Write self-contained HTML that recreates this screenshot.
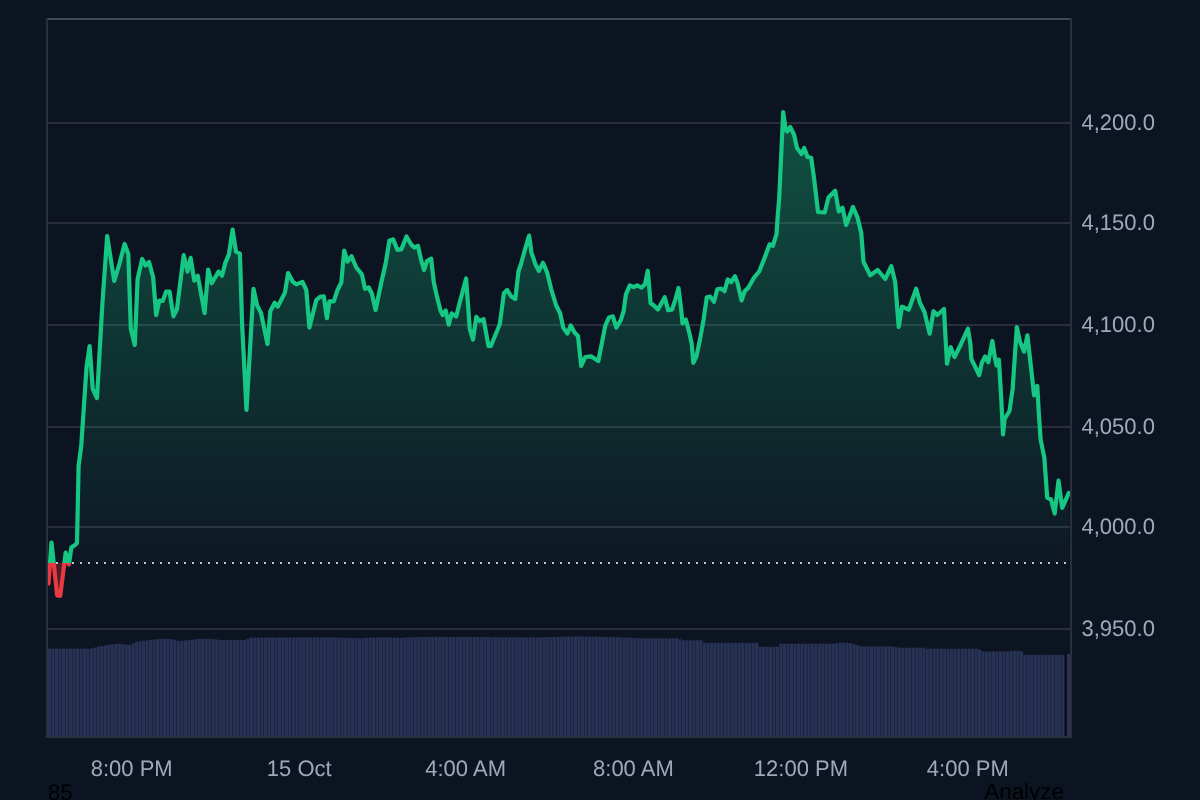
<!DOCTYPE html>
<html><head><meta charset="utf-8">
<style>
html,body{margin:0;padding:0;background:#0d1421;width:1200px;height:800px;overflow:hidden}
svg{position:absolute;left:0;top:0;display:block}
text{font-family:"Liberation Sans",Arial,sans-serif;font-size:22px}
</style></head>
<body>
<svg width="1200" height="800" viewBox="0 0 1200 800">
<defs>
<linearGradient id="gfill" gradientUnits="userSpaceOnUse" x1="0" y1="18" x2="0" y2="563.0">
<stop offset="0" stop-color="#16c784" stop-opacity="0.41"/>
<stop offset="1" stop-color="#16c784" stop-opacity="0.024"/>
</linearGradient>
<linearGradient id="rfill" gradientUnits="userSpaceOnUse" x1="0" y1="563.0" x2="0" y2="737">
<stop offset="0" stop-color="#ea3943" stop-opacity="0.28"/>
<stop offset="1" stop-color="#ea3943" stop-opacity="0.1"/>
</linearGradient>
<clipPath id="above"><rect x="0" y="0" width="1200" height="563.0"/></clipPath>
<clipPath id="below"><rect x="0" y="563.0" width="1200" height="300"/></clipPath>
<clipPath id="pane"><rect x="48" y="20" width="1022" height="716"/></clipPath>
</defs>
<g fill="#2a2e3c"><rect x="48" y="122" width="1022" height="2"/>
<rect x="48" y="222" width="1022" height="2"/>
<rect x="48" y="324" width="1022" height="2"/>
<rect x="48" y="426" width="1022" height="2"/>
<rect x="48" y="526" width="1022" height="2"/>
<rect x="48" y="628" width="1022" height="2"/></g>
<rect x="46" y="18" width="1026" height="2" fill="#434857"/>
<rect x="46" y="18" width="2" height="720" fill="#2a2f3c"/>
<rect x="1070" y="18" width="2" height="720" fill="#2a2f3c"/>
<rect x="46" y="736" width="1026" height="2" fill="#2a2f3c"/>
<g fill="#273254" clip-path="url(#pane)">
<rect x="48" y="648.6" width="3.15" height="87.4"/>
<rect x="51.48" y="648.6" width="3.15" height="87.4"/>
<rect x="54.97" y="648.6" width="3.15" height="87.4"/>
<rect x="58.45" y="648.6" width="3.15" height="87.4"/>
<rect x="61.93" y="648.6" width="3.15" height="87.4"/>
<rect x="65.41" y="648.6" width="3.15" height="87.4"/>
<rect x="68.9" y="648.6" width="3.15" height="87.4"/>
<rect x="72.38" y="648.6" width="3.15" height="87.4"/>
<rect x="75.86" y="648.6" width="3.15" height="87.4"/>
<rect x="79.35" y="648.6" width="3.15" height="87.4"/>
<rect x="82.83" y="648.6" width="3.15" height="87.4"/>
<rect x="86.31" y="648.6" width="3.15" height="87.4"/>
<rect x="89.8" y="648.52" width="3.15" height="87.48"/>
<rect x="93.28" y="647.63" width="3.15" height="88.37"/>
<rect x="96.76" y="646.74" width="3.15" height="89.26"/>
<rect x="100.25" y="645.99" width="3.15" height="90.01"/>
<rect x="103.73" y="645.36" width="3.15" height="90.64"/>
<rect x="107.21" y="644.73" width="3.15" height="91.27"/>
<rect x="110.69" y="644.35" width="3.15" height="91.65"/>
<rect x="114.18" y="644.1" width="3.15" height="91.9"/>
<rect x="117.66" y="643.86" width="3.15" height="92.14"/>
<rect x="121.14" y="644.12" width="3.15" height="91.88"/>
<rect x="124.63" y="644.54" width="3.15" height="91.46"/>
<rect x="128.11" y="644.95" width="3.15" height="91.05"/>
<rect x="131.59" y="643.45" width="3.15" height="92.55"/>
<rect x="135.07" y="641.71" width="3.15" height="94.29"/>
<rect x="138.56" y="641.15" width="3.15" height="94.85"/>
<rect x="142.04" y="640.75" width="3.15" height="95.25"/>
<rect x="145.52" y="640.34" width="3.15" height="95.66"/>
<rect x="149.01" y="639.94" width="3.15" height="96.06"/>
<rect x="152.49" y="639.52" width="3.15" height="96.48"/>
<rect x="155.97" y="639.1" width="3.15" height="96.9"/>
<rect x="159.46" y="638.8" width="3.15" height="97.2"/>
<rect x="162.94" y="638.8" width="3.15" height="97.2"/>
<rect x="166.42" y="638.8" width="3.15" height="97.2"/>
<rect x="169.91" y="639.19" width="3.15" height="96.81"/>
<rect x="173.39" y="640.14" width="3.15" height="95.86"/>
<rect x="176.87" y="640.97" width="3.15" height="95.03"/>
<rect x="180.35" y="640.68" width="3.15" height="95.32"/>
<rect x="183.84" y="640.39" width="3.15" height="95.61"/>
<rect x="187.32" y="640.1" width="3.15" height="95.9"/>
<rect x="190.8" y="639.72" width="3.15" height="96.28"/>
<rect x="194.29" y="639.31" width="3.15" height="96.69"/>
<rect x="197.77" y="638.89" width="3.15" height="97.11"/>
<rect x="201.25" y="638.8" width="3.15" height="97.2"/>
<rect x="204.74" y="638.8" width="3.15" height="97.2"/>
<rect x="208.22" y="638.8" width="3.15" height="97.2"/>
<rect x="211.7" y="638.98" width="3.15" height="97.02"/>
<rect x="215.18" y="639.5" width="3.15" height="96.5"/>
<rect x="218.67" y="640" width="3.15" height="96"/>
<rect x="222.15" y="640" width="3.15" height="96"/>
<rect x="225.63" y="640" width="3.15" height="96"/>
<rect x="229.12" y="640" width="3.15" height="96"/>
<rect x="232.6" y="640" width="3.15" height="96"/>
<rect x="236.08" y="640" width="3.15" height="96"/>
<rect x="239.56" y="640" width="3.15" height="96"/>
<rect x="243.05" y="640" width="3.15" height="96"/>
<rect x="246.53" y="638.55" width="3.15" height="97.45"/>
<rect x="250.01" y="637.6" width="3.15" height="98.4"/>
<rect x="253.5" y="637.59" width="3.15" height="98.41"/>
<rect x="256.98" y="637.58" width="3.15" height="98.42"/>
<rect x="260.46" y="637.57" width="3.15" height="98.43"/>
<rect x="263.95" y="637.56" width="3.15" height="98.44"/>
<rect x="267.43" y="637.56" width="3.15" height="98.44"/>
<rect x="270.91" y="637.55" width="3.15" height="98.45"/>
<rect x="274.39" y="637.54" width="3.15" height="98.46"/>
<rect x="277.88" y="637.53" width="3.15" height="98.47"/>
<rect x="281.36" y="637.52" width="3.15" height="98.48"/>
<rect x="284.84" y="637.52" width="3.15" height="98.48"/>
<rect x="288.33" y="637.51" width="3.15" height="98.49"/>
<rect x="291.81" y="637.5" width="3.15" height="98.5"/>
<rect x="295.29" y="637.49" width="3.15" height="98.51"/>
<rect x="298.78" y="637.48" width="3.15" height="98.52"/>
<rect x="302.26" y="637.47" width="3.15" height="98.53"/>
<rect x="305.74" y="637.47" width="3.15" height="98.53"/>
<rect x="309.23" y="637.46" width="3.15" height="98.54"/>
<rect x="312.71" y="637.45" width="3.15" height="98.55"/>
<rect x="316.19" y="637.44" width="3.15" height="98.56"/>
<rect x="319.67" y="637.43" width="3.15" height="98.57"/>
<rect x="323.16" y="637.43" width="3.15" height="98.57"/>
<rect x="326.64" y="637.42" width="3.15" height="98.58"/>
<rect x="330.12" y="637.41" width="3.15" height="98.59"/>
<rect x="333.61" y="637.4" width="3.15" height="98.6"/>
<rect x="337.09" y="637.49" width="3.15" height="98.51"/>
<rect x="340.57" y="637.6" width="3.15" height="98.4"/>
<rect x="344.06" y="637.72" width="3.15" height="98.28"/>
<rect x="347.54" y="637.83" width="3.15" height="98.17"/>
<rect x="351.02" y="637.95" width="3.15" height="98.05"/>
<rect x="354.5" y="638.07" width="3.15" height="97.93"/>
<rect x="357.99" y="638.18" width="3.15" height="97.82"/>
<rect x="361.47" y="638.07" width="3.15" height="97.93"/>
<rect x="364.95" y="637.91" width="3.15" height="98.09"/>
<rect x="368.44" y="637.75" width="3.15" height="98.25"/>
<rect x="371.92" y="637.59" width="3.15" height="98.41"/>
<rect x="375.4" y="637.43" width="3.15" height="98.57"/>
<rect x="378.88" y="637.27" width="3.15" height="98.73"/>
<rect x="382.37" y="637.28" width="3.15" height="98.72"/>
<rect x="385.85" y="637.44" width="3.15" height="98.56"/>
<rect x="389.33" y="637.59" width="3.15" height="98.41"/>
<rect x="392.82" y="637.75" width="3.15" height="98.25"/>
<rect x="396.3" y="637.9" width="3.15" height="98.1"/>
<rect x="399.78" y="637.9" width="3.15" height="98.1"/>
<rect x="403.27" y="637.62" width="3.15" height="98.38"/>
<rect x="406.75" y="637.34" width="3.15" height="98.66"/>
<rect x="410.23" y="637.17" width="3.15" height="98.83"/>
<rect x="413.72" y="637.12" width="3.15" height="98.88"/>
<rect x="417.2" y="637.07" width="3.15" height="98.93"/>
<rect x="420.68" y="637.01" width="3.15" height="98.99"/>
<rect x="424.16" y="636.96" width="3.15" height="99.04"/>
<rect x="427.65" y="636.91" width="3.15" height="99.09"/>
<rect x="431.13" y="636.85" width="3.15" height="99.15"/>
<rect x="434.61" y="636.8" width="3.15" height="99.2"/>
<rect x="438.1" y="636.82" width="3.15" height="99.18"/>
<rect x="441.58" y="636.84" width="3.15" height="99.16"/>
<rect x="445.06" y="636.86" width="3.15" height="99.14"/>
<rect x="448.55" y="636.88" width="3.15" height="99.12"/>
<rect x="452.03" y="636.91" width="3.15" height="99.09"/>
<rect x="455.51" y="636.93" width="3.15" height="99.07"/>
<rect x="458.99" y="636.95" width="3.15" height="99.05"/>
<rect x="462.48" y="636.97" width="3.15" height="99.03"/>
<rect x="465.96" y="636.99" width="3.15" height="99.01"/>
<rect x="469.44" y="637.01" width="3.15" height="98.99"/>
<rect x="472.93" y="637.03" width="3.15" height="98.97"/>
<rect x="476.41" y="637.05" width="3.15" height="98.95"/>
<rect x="479.89" y="637.07" width="3.15" height="98.93"/>
<rect x="483.38" y="637.09" width="3.15" height="98.91"/>
<rect x="486.86" y="637.11" width="3.15" height="98.89"/>
<rect x="490.34" y="637.14" width="3.15" height="98.86"/>
<rect x="493.82" y="637.16" width="3.15" height="98.84"/>
<rect x="497.31" y="637.18" width="3.15" height="98.82"/>
<rect x="500.79" y="637.2" width="3.15" height="98.8"/>
<rect x="504.27" y="637.22" width="3.15" height="98.78"/>
<rect x="507.76" y="637.24" width="3.15" height="98.76"/>
<rect x="511.24" y="637.26" width="3.15" height="98.74"/>
<rect x="514.72" y="637.28" width="3.15" height="98.72"/>
<rect x="518.21" y="637.3" width="3.15" height="98.7"/>
<rect x="521.69" y="637.32" width="3.15" height="98.68"/>
<rect x="525.17" y="637.34" width="3.15" height="98.66"/>
<rect x="528.65" y="637.36" width="3.15" height="98.64"/>
<rect x="532.14" y="637.39" width="3.15" height="98.61"/>
<rect x="535.62" y="637.37" width="3.15" height="98.63"/>
<rect x="539.1" y="637.3" width="3.15" height="98.7"/>
<rect x="542.59" y="637.22" width="3.15" height="98.78"/>
<rect x="546.07" y="637.14" width="3.15" height="98.86"/>
<rect x="549.55" y="637.06" width="3.15" height="98.94"/>
<rect x="553.04" y="636.98" width="3.15" height="99.02"/>
<rect x="556.52" y="636.9" width="3.15" height="99.1"/>
<rect x="560" y="636.82" width="3.15" height="99.18"/>
<rect x="563.48" y="636.74" width="3.15" height="99.26"/>
<rect x="566.97" y="636.66" width="3.15" height="99.34"/>
<rect x="570.45" y="636.58" width="3.15" height="99.42"/>
<rect x="573.93" y="636.5" width="3.15" height="99.5"/>
<rect x="577.42" y="636.42" width="3.15" height="99.58"/>
<rect x="580.9" y="636.45" width="3.15" height="99.55"/>
<rect x="584.38" y="636.53" width="3.15" height="99.47"/>
<rect x="587.87" y="636.61" width="3.15" height="99.39"/>
<rect x="591.35" y="636.69" width="3.15" height="99.31"/>
<rect x="594.83" y="636.76" width="3.15" height="99.24"/>
<rect x="598.31" y="636.84" width="3.15" height="99.16"/>
<rect x="601.8" y="636.92" width="3.15" height="99.08"/>
<rect x="605.28" y="637" width="3.15" height="99"/>
<rect x="608.76" y="637.07" width="3.15" height="98.93"/>
<rect x="612.25" y="637.15" width="3.15" height="98.85"/>
<rect x="615.73" y="637.23" width="3.15" height="98.77"/>
<rect x="619.21" y="637.3" width="3.15" height="98.7"/>
<rect x="622.7" y="637.38" width="3.15" height="98.62"/>
<rect x="626.18" y="637.56" width="3.15" height="98.44"/>
<rect x="629.66" y="637.77" width="3.15" height="98.23"/>
<rect x="633.14" y="637.98" width="3.15" height="98.02"/>
<rect x="636.63" y="638.19" width="3.15" height="97.81"/>
<rect x="640.11" y="638.3" width="3.15" height="97.7"/>
<rect x="643.59" y="638.3" width="3.15" height="97.7"/>
<rect x="647.08" y="638.3" width="3.15" height="97.7"/>
<rect x="650.56" y="638.3" width="3.15" height="97.7"/>
<rect x="654.04" y="638.3" width="3.15" height="97.7"/>
<rect x="657.52" y="638.3" width="3.15" height="97.7"/>
<rect x="661.01" y="638.3" width="3.15" height="97.7"/>
<rect x="664.49" y="638.3" width="3.15" height="97.7"/>
<rect x="667.97" y="638.3" width="3.15" height="97.7"/>
<rect x="671.46" y="638.3" width="3.15" height="97.7"/>
<rect x="674.94" y="638.3" width="3.15" height="97.7"/>
<rect x="678.42" y="639.22" width="3.15" height="96.78"/>
<rect x="681.91" y="640.3" width="3.15" height="95.7"/>
<rect x="685.39" y="640.3" width="3.15" height="95.7"/>
<rect x="688.87" y="640.3" width="3.15" height="95.7"/>
<rect x="692.36" y="640.3" width="3.15" height="95.7"/>
<rect x="695.84" y="640.3" width="3.15" height="95.7"/>
<rect x="699.32" y="640.3" width="3.15" height="95.7"/>
<rect x="702.8" y="642.8" width="3.15" height="93.2"/>
<rect x="706.29" y="642.8" width="3.15" height="93.2"/>
<rect x="709.77" y="642.8" width="3.15" height="93.2"/>
<rect x="713.25" y="642.8" width="3.15" height="93.2"/>
<rect x="716.74" y="642.8" width="3.15" height="93.2"/>
<rect x="720.22" y="642.8" width="3.15" height="93.2"/>
<rect x="723.7" y="642.8" width="3.15" height="93.2"/>
<rect x="727.19" y="642.8" width="3.15" height="93.2"/>
<rect x="730.67" y="642.8" width="3.15" height="93.2"/>
<rect x="734.15" y="642.8" width="3.15" height="93.2"/>
<rect x="737.63" y="642.8" width="3.15" height="93.2"/>
<rect x="741.12" y="642.8" width="3.15" height="93.2"/>
<rect x="744.6" y="642.8" width="3.15" height="93.2"/>
<rect x="748.08" y="642.8" width="3.15" height="93.2"/>
<rect x="751.57" y="642.8" width="3.15" height="93.2"/>
<rect x="755.05" y="642.8" width="3.15" height="93.2"/>
<rect x="758.53" y="646.7" width="3.15" height="89.3"/>
<rect x="762.01" y="646.7" width="3.15" height="89.3"/>
<rect x="765.5" y="646.7" width="3.15" height="89.3"/>
<rect x="768.98" y="646.7" width="3.15" height="89.3"/>
<rect x="772.46" y="646.7" width="3.15" height="89.3"/>
<rect x="775.95" y="646.7" width="3.15" height="89.3"/>
<rect x="779.43" y="643.8" width="3.15" height="92.2"/>
<rect x="782.91" y="643.7" width="3.15" height="92.3"/>
<rect x="786.4" y="643.7" width="3.15" height="92.3"/>
<rect x="789.88" y="643.7" width="3.15" height="92.3"/>
<rect x="793.36" y="643.7" width="3.15" height="92.3"/>
<rect x="796.85" y="643.7" width="3.15" height="92.3"/>
<rect x="800.33" y="643.7" width="3.15" height="92.3"/>
<rect x="803.81" y="643.7" width="3.15" height="92.3"/>
<rect x="807.29" y="643.7" width="3.15" height="92.3"/>
<rect x="810.78" y="643.7" width="3.15" height="92.3"/>
<rect x="814.26" y="643.7" width="3.15" height="92.3"/>
<rect x="817.74" y="643.7" width="3.15" height="92.3"/>
<rect x="821.23" y="643.7" width="3.15" height="92.3"/>
<rect x="824.71" y="643.7" width="3.15" height="92.3"/>
<rect x="828.19" y="643.7" width="3.15" height="92.3"/>
<rect x="831.68" y="643.7" width="3.15" height="92.3"/>
<rect x="835.16" y="643.3" width="3.15" height="92.7"/>
<rect x="838.64" y="642.51" width="3.15" height="93.49"/>
<rect x="842.12" y="642.68" width="3.15" height="93.32"/>
<rect x="845.61" y="642.86" width="3.15" height="93.14"/>
<rect x="849.09" y="643.18" width="3.15" height="92.82"/>
<rect x="852.57" y="644.22" width="3.15" height="91.78"/>
<rect x="856.06" y="645.24" width="3.15" height="90.76"/>
<rect x="859.54" y="646.23" width="3.15" height="89.77"/>
<rect x="863.02" y="646.5" width="3.15" height="89.5"/>
<rect x="866.5" y="646.5" width="3.15" height="89.5"/>
<rect x="869.99" y="646.5" width="3.15" height="89.5"/>
<rect x="873.47" y="646.5" width="3.15" height="89.5"/>
<rect x="876.95" y="646.5" width="3.15" height="89.5"/>
<rect x="880.44" y="646.5" width="3.15" height="89.5"/>
<rect x="883.92" y="646.5" width="3.15" height="89.5"/>
<rect x="887.4" y="646.5" width="3.15" height="89.5"/>
<rect x="890.89" y="646.5" width="3.15" height="89.5"/>
<rect x="894.37" y="647.02" width="3.15" height="88.98"/>
<rect x="897.85" y="647.7" width="3.15" height="88.3"/>
<rect x="901.34" y="647.7" width="3.15" height="88.3"/>
<rect x="904.82" y="647.7" width="3.15" height="88.3"/>
<rect x="908.3" y="647.7" width="3.15" height="88.3"/>
<rect x="911.78" y="647.7" width="3.15" height="88.3"/>
<rect x="915.27" y="647.7" width="3.15" height="88.3"/>
<rect x="918.75" y="647.7" width="3.15" height="88.3"/>
<rect x="922.23" y="647.7" width="3.15" height="88.3"/>
<rect x="925.72" y="648.7" width="3.15" height="87.3"/>
<rect x="929.2" y="648.7" width="3.15" height="87.3"/>
<rect x="932.68" y="648.7" width="3.15" height="87.3"/>
<rect x="936.17" y="648.7" width="3.15" height="87.3"/>
<rect x="939.65" y="648.7" width="3.15" height="87.3"/>
<rect x="943.13" y="648.7" width="3.15" height="87.3"/>
<rect x="946.61" y="648.7" width="3.15" height="87.3"/>
<rect x="950.1" y="648.7" width="3.15" height="87.3"/>
<rect x="953.58" y="648.7" width="3.15" height="87.3"/>
<rect x="957.06" y="648.7" width="3.15" height="87.3"/>
<rect x="960.55" y="648.7" width="3.15" height="87.3"/>
<rect x="964.03" y="648.7" width="3.15" height="87.3"/>
<rect x="967.51" y="648.7" width="3.15" height="87.3"/>
<rect x="971" y="648.7" width="3.15" height="87.3"/>
<rect x="974.48" y="648.7" width="3.15" height="87.3"/>
<rect x="977.96" y="649.35" width="3.15" height="86.65"/>
<rect x="981.44" y="651.5" width="3.15" height="84.5"/>
<rect x="984.93" y="651.5" width="3.15" height="84.5"/>
<rect x="988.41" y="651.5" width="3.15" height="84.5"/>
<rect x="991.89" y="651.5" width="3.15" height="84.5"/>
<rect x="995.38" y="651.5" width="3.15" height="84.5"/>
<rect x="998.86" y="651.5" width="3.15" height="84.5"/>
<rect x="1002.34" y="651.5" width="3.15" height="84.5"/>
<rect x="1005.83" y="651.5" width="3.15" height="84.5"/>
<rect x="1009.31" y="650.78" width="3.15" height="85.22"/>
<rect x="1012.79" y="650.7" width="3.15" height="85.3"/>
<rect x="1016.27" y="650.7" width="3.15" height="85.3"/>
<rect x="1019.76" y="651.23" width="3.15" height="84.77"/>
<rect x="1023.24" y="654.8" width="3.15" height="81.2"/>
<rect x="1026.72" y="654.8" width="3.15" height="81.2"/>
<rect x="1030.21" y="654.8" width="3.15" height="81.2"/>
<rect x="1033.69" y="654.8" width="3.15" height="81.2"/>
<rect x="1037.17" y="654.8" width="3.15" height="81.2"/>
<rect x="1040.65" y="654.8" width="3.15" height="81.2"/>
<rect x="1044.14" y="654.8" width="3.15" height="81.2"/>
<rect x="1047.62" y="654.8" width="3.15" height="81.2"/>
<rect x="1051.1" y="654.8" width="3.15" height="81.2"/>
<rect x="1054.59" y="654.8" width="3.15" height="81.2"/>
<rect x="1058.07" y="654.8" width="3.15" height="81.2"/>
<rect x="1061.55" y="654.8" width="3.15" height="81.2"/>
</g>
<rect x="1064.6" y="654" width="2.4" height="82" fill="#0a111d"/>
<rect x="1067" y="654" width="3" height="82" fill="#2b3252"/>
<g clip-path="url(#pane)">
<path d="M48.5 583.5 L51.5 542.5 L57.2 595.5 L60.2 596 L65.7 552.5 L69 564.5 L71.3 547.5 L75 545 L77 543 L78.6 466 L81.3 445 L86.5 367.5 L89.6 346 L92.75 389 L97 398 L102.3 305 L107.2 236 L114.2 281 L119.4 264 L124.6 244 L128.3 254 L130.8 329 L134.8 345 L137.6 279 L142.2 259 L145.6 265.5 L149 262 L153.1 277 L156.2 315 L159.3 300.5 L162.7 301 L166.1 291.6 L169.6 291.6 L173.4 316.3 L176.9 309.5 L183.7 255.1 L187.5 271.6 L190.6 257.9 L194.3 280.6 L197.8 275.8 L204.6 313.2 L208.2 269.5 L211.7 283.3 L218.6 271.6 L222 275.7 L225.4 262.6 L228.9 254.4 L232.6 229.6 L236 251.6 L239.9 253.7 L242.2 326 L246.5 409.8 L253.5 288.8 L257.2 305.6 L261 313 L267.5 344 L270.3 311.3 L274.7 302.8 L277.8 306.6 L285 292.5 L288.1 273.1 L292.5 281.3 L296.3 284.4 L302.5 281.9 L306.3 290 L309.4 327.5 L316.3 300 L320 296.9 L323.8 296.3 L326.9 318.1 L329.4 301.3 L333.8 301.3 L337.5 290 L341.3 282.5 L344.2 250.6 L347.6 261.6 L351.5 256.3 L356.3 267.5 L361.9 274.4 L365 288.8 L368.8 287.5 L371.9 293.8 L375.6 310 L381.3 282.5 L385.6 263.8 L389.4 240.6 L393.1 239.4 L397.5 250 L401.3 249.4 L406.5 236.5 L411.2 244.5 L414.2 247.5 L418 246 L421 259.5 L424 270 L427 261 L431.2 258.7 L433.7 282 L436.7 295.5 L440.5 310.5 L442.7 315 L445.7 310.5 L448.7 324.7 L451.7 313.5 L456.2 316.5 L460 301.5 L466.1 278.5 L469.8 329 L473 339.6 L476.3 316.9 L479.5 321 L483.6 319.3 L488.5 346.1 L490.9 346 L499.8 324.2 L503.9 293.3 L507.2 290 L511.2 296.5 L515.3 299 L518.5 271.3 L521 264 L525 249.4 L529.1 235.6 L531.5 252.6 L535.6 264.8 L538.9 270.9 L543 262.8 L547.1 272.5 L551.1 288.8 L556 305 L560.1 313.2 L563.3 327.8 L567.4 333.5 L570.7 325.4 L574.7 332.7 L578 335.9 L581.2 366 L585.3 357 L591 356.3 L598.3 361.1 L605.3 325.5 L609 317.4 L612.9 316.3 L616.3 327.6 L620.8 320.2 L623.6 311.2 L625.9 294.4 L629.8 285.4 L633.7 287.1 L637.1 285.4 L641.6 287.6 L645 284.2 L647.8 270.7 L650.6 303.4 L653.4 305 L657.9 309.6 L661.3 303.4 L664.7 297.2 L668.1 310.1 L672 309.6 L675.3 299.8 L678.5 288 L681.2 309.6 L682.5 323.4 L685.8 319.5 L689.1 331.9 L691.7 343.7 L693.3 362.8 L696.3 356.9 L700.2 338.5 L703.5 320.1 L706.8 297.2 L710.1 296.5 L714 301.7 L717.3 289.3 L721.2 288.6 L724.5 291.2 L727.8 279.4 L731.1 282.1 L735 276.2 L737.6 283.4 L741.6 300.4 L744.8 291 L748.3 287.7 L753.8 278 L759.3 271.2 L764.8 257.4 L769.6 244.3 L773 245.7 L776.5 234 L777.8 214.8 L779.2 198.3 L783.2 112 L785.7 130 L787.2 131.5 L790.2 127 L794 134.5 L797 148 L801.5 154 L804.2 148 L807.5 157 L811.2 157.7 L814.2 179.5 L818 212 L824.7 212.5 L828.5 197.5 L835.2 190.7 L838.7 211.5 L842.5 207.7 L846.2 225 L853 207 L857.5 217.5 L861.2 232.5 L863.5 261.7 L870.2 275.2 L877.7 270 L885.2 279 L891.3 266.2 L895.2 282 L898.7 327 L902 306.7 L908.7 309.7 L916.2 288.7 L920 303 L924.5 312 L929.7 333.7 L933.5 311.2 L937.2 315 L944 309 L945.5 337.5 L947 363.7 L950.7 347.2 L954.5 357 L960.5 345 L968 328.7 L970.4 344.3 L971.3 358.9 L975.3 367 L979.1 375.2 L981.8 363 L985.1 356.5 L988.3 362.2 L992.4 341 L994.8 357.3 L996.5 365.4 L998.9 359.7 L1001.3 399.6 L1003 434.5 L1004.6 419 L1009.5 411 L1012.7 388.2 L1016.8 327.2 L1020 341.8 L1024.1 351.6 L1027.4 335.3 L1030.6 363.8 L1034.1 395.3 L1037.3 386 L1038.8 413.2 L1040.6 439.4 L1044.4 458.2 L1047.2 497.6 L1051 499.5 L1054.7 513.5 L1058.5 480.7 L1062.2 507.9 L1068.8 492.9 L1068.8 563.0 L48.5 563.0 Z" fill="url(#gfill)" clip-path="url(#above)"/>
<path d="M48.5 583.5 L51.5 542.5 L57.2 595.5 L60.2 596 L65.7 552.5 L69 564.5 L71.3 547.5 L75 545 L77 543 L78.6 466 L81.3 445 L86.5 367.5 L89.6 346 L92.75 389 L97 398 L102.3 305 L107.2 236 L114.2 281 L119.4 264 L124.6 244 L128.3 254 L130.8 329 L134.8 345 L137.6 279 L142.2 259 L145.6 265.5 L149 262 L153.1 277 L156.2 315 L159.3 300.5 L162.7 301 L166.1 291.6 L169.6 291.6 L173.4 316.3 L176.9 309.5 L183.7 255.1 L187.5 271.6 L190.6 257.9 L194.3 280.6 L197.8 275.8 L204.6 313.2 L208.2 269.5 L211.7 283.3 L218.6 271.6 L222 275.7 L225.4 262.6 L228.9 254.4 L232.6 229.6 L236 251.6 L239.9 253.7 L242.2 326 L246.5 409.8 L253.5 288.8 L257.2 305.6 L261 313 L267.5 344 L270.3 311.3 L274.7 302.8 L277.8 306.6 L285 292.5 L288.1 273.1 L292.5 281.3 L296.3 284.4 L302.5 281.9 L306.3 290 L309.4 327.5 L316.3 300 L320 296.9 L323.8 296.3 L326.9 318.1 L329.4 301.3 L333.8 301.3 L337.5 290 L341.3 282.5 L344.2 250.6 L347.6 261.6 L351.5 256.3 L356.3 267.5 L361.9 274.4 L365 288.8 L368.8 287.5 L371.9 293.8 L375.6 310 L381.3 282.5 L385.6 263.8 L389.4 240.6 L393.1 239.4 L397.5 250 L401.3 249.4 L406.5 236.5 L411.2 244.5 L414.2 247.5 L418 246 L421 259.5 L424 270 L427 261 L431.2 258.7 L433.7 282 L436.7 295.5 L440.5 310.5 L442.7 315 L445.7 310.5 L448.7 324.7 L451.7 313.5 L456.2 316.5 L460 301.5 L466.1 278.5 L469.8 329 L473 339.6 L476.3 316.9 L479.5 321 L483.6 319.3 L488.5 346.1 L490.9 346 L499.8 324.2 L503.9 293.3 L507.2 290 L511.2 296.5 L515.3 299 L518.5 271.3 L521 264 L525 249.4 L529.1 235.6 L531.5 252.6 L535.6 264.8 L538.9 270.9 L543 262.8 L547.1 272.5 L551.1 288.8 L556 305 L560.1 313.2 L563.3 327.8 L567.4 333.5 L570.7 325.4 L574.7 332.7 L578 335.9 L581.2 366 L585.3 357 L591 356.3 L598.3 361.1 L605.3 325.5 L609 317.4 L612.9 316.3 L616.3 327.6 L620.8 320.2 L623.6 311.2 L625.9 294.4 L629.8 285.4 L633.7 287.1 L637.1 285.4 L641.6 287.6 L645 284.2 L647.8 270.7 L650.6 303.4 L653.4 305 L657.9 309.6 L661.3 303.4 L664.7 297.2 L668.1 310.1 L672 309.6 L675.3 299.8 L678.5 288 L681.2 309.6 L682.5 323.4 L685.8 319.5 L689.1 331.9 L691.7 343.7 L693.3 362.8 L696.3 356.9 L700.2 338.5 L703.5 320.1 L706.8 297.2 L710.1 296.5 L714 301.7 L717.3 289.3 L721.2 288.6 L724.5 291.2 L727.8 279.4 L731.1 282.1 L735 276.2 L737.6 283.4 L741.6 300.4 L744.8 291 L748.3 287.7 L753.8 278 L759.3 271.2 L764.8 257.4 L769.6 244.3 L773 245.7 L776.5 234 L777.8 214.8 L779.2 198.3 L783.2 112 L785.7 130 L787.2 131.5 L790.2 127 L794 134.5 L797 148 L801.5 154 L804.2 148 L807.5 157 L811.2 157.7 L814.2 179.5 L818 212 L824.7 212.5 L828.5 197.5 L835.2 190.7 L838.7 211.5 L842.5 207.7 L846.2 225 L853 207 L857.5 217.5 L861.2 232.5 L863.5 261.7 L870.2 275.2 L877.7 270 L885.2 279 L891.3 266.2 L895.2 282 L898.7 327 L902 306.7 L908.7 309.7 L916.2 288.7 L920 303 L924.5 312 L929.7 333.7 L933.5 311.2 L937.2 315 L944 309 L945.5 337.5 L947 363.7 L950.7 347.2 L954.5 357 L960.5 345 L968 328.7 L970.4 344.3 L971.3 358.9 L975.3 367 L979.1 375.2 L981.8 363 L985.1 356.5 L988.3 362.2 L992.4 341 L994.8 357.3 L996.5 365.4 L998.9 359.7 L1001.3 399.6 L1003 434.5 L1004.6 419 L1009.5 411 L1012.7 388.2 L1016.8 327.2 L1020 341.8 L1024.1 351.6 L1027.4 335.3 L1030.6 363.8 L1034.1 395.3 L1037.3 386 L1038.8 413.2 L1040.6 439.4 L1044.4 458.2 L1047.2 497.6 L1051 499.5 L1054.7 513.5 L1058.5 480.7 L1062.2 507.9 L1068.8 492.9 L1068.8 563.0 L48.5 563.0 Z" fill="url(#rfill)" clip-path="url(#below)"/>
<line x1="48" y1="563.0" x2="1070" y2="563.0" stroke="#c3c6d2" stroke-width="2" stroke-dasharray="2 6"/>
<g clip-path="url(#above)"><path d="M48.5 583.5 L51.5 542.5 L57.2 595.5 L60.2 596 L65.7 552.5 L69 564.5 L71.3 547.5 L75 545 L77 543 L78.6 466 L81.3 445 L86.5 367.5 L89.6 346 L92.75 389 L97 398 L102.3 305 L107.2 236 L114.2 281 L119.4 264 L124.6 244 L128.3 254 L130.8 329 L134.8 345 L137.6 279 L142.2 259 L145.6 265.5 L149 262 L153.1 277 L156.2 315 L159.3 300.5 L162.7 301 L166.1 291.6 L169.6 291.6 L173.4 316.3 L176.9 309.5 L183.7 255.1 L187.5 271.6 L190.6 257.9 L194.3 280.6 L197.8 275.8 L204.6 313.2 L208.2 269.5 L211.7 283.3 L218.6 271.6 L222 275.7 L225.4 262.6 L228.9 254.4 L232.6 229.6 L236 251.6 L239.9 253.7 L242.2 326 L246.5 409.8 L253.5 288.8 L257.2 305.6 L261 313 L267.5 344 L270.3 311.3 L274.7 302.8 L277.8 306.6 L285 292.5 L288.1 273.1 L292.5 281.3 L296.3 284.4 L302.5 281.9 L306.3 290 L309.4 327.5 L316.3 300 L320 296.9 L323.8 296.3 L326.9 318.1 L329.4 301.3 L333.8 301.3 L337.5 290 L341.3 282.5 L344.2 250.6 L347.6 261.6 L351.5 256.3 L356.3 267.5 L361.9 274.4 L365 288.8 L368.8 287.5 L371.9 293.8 L375.6 310 L381.3 282.5 L385.6 263.8 L389.4 240.6 L393.1 239.4 L397.5 250 L401.3 249.4 L406.5 236.5 L411.2 244.5 L414.2 247.5 L418 246 L421 259.5 L424 270 L427 261 L431.2 258.7 L433.7 282 L436.7 295.5 L440.5 310.5 L442.7 315 L445.7 310.5 L448.7 324.7 L451.7 313.5 L456.2 316.5 L460 301.5 L466.1 278.5 L469.8 329 L473 339.6 L476.3 316.9 L479.5 321 L483.6 319.3 L488.5 346.1 L490.9 346 L499.8 324.2 L503.9 293.3 L507.2 290 L511.2 296.5 L515.3 299 L518.5 271.3 L521 264 L525 249.4 L529.1 235.6 L531.5 252.6 L535.6 264.8 L538.9 270.9 L543 262.8 L547.1 272.5 L551.1 288.8 L556 305 L560.1 313.2 L563.3 327.8 L567.4 333.5 L570.7 325.4 L574.7 332.7 L578 335.9 L581.2 366 L585.3 357 L591 356.3 L598.3 361.1 L605.3 325.5 L609 317.4 L612.9 316.3 L616.3 327.6 L620.8 320.2 L623.6 311.2 L625.9 294.4 L629.8 285.4 L633.7 287.1 L637.1 285.4 L641.6 287.6 L645 284.2 L647.8 270.7 L650.6 303.4 L653.4 305 L657.9 309.6 L661.3 303.4 L664.7 297.2 L668.1 310.1 L672 309.6 L675.3 299.8 L678.5 288 L681.2 309.6 L682.5 323.4 L685.8 319.5 L689.1 331.9 L691.7 343.7 L693.3 362.8 L696.3 356.9 L700.2 338.5 L703.5 320.1 L706.8 297.2 L710.1 296.5 L714 301.7 L717.3 289.3 L721.2 288.6 L724.5 291.2 L727.8 279.4 L731.1 282.1 L735 276.2 L737.6 283.4 L741.6 300.4 L744.8 291 L748.3 287.7 L753.8 278 L759.3 271.2 L764.8 257.4 L769.6 244.3 L773 245.7 L776.5 234 L777.8 214.8 L779.2 198.3 L783.2 112 L785.7 130 L787.2 131.5 L790.2 127 L794 134.5 L797 148 L801.5 154 L804.2 148 L807.5 157 L811.2 157.7 L814.2 179.5 L818 212 L824.7 212.5 L828.5 197.5 L835.2 190.7 L838.7 211.5 L842.5 207.7 L846.2 225 L853 207 L857.5 217.5 L861.2 232.5 L863.5 261.7 L870.2 275.2 L877.7 270 L885.2 279 L891.3 266.2 L895.2 282 L898.7 327 L902 306.7 L908.7 309.7 L916.2 288.7 L920 303 L924.5 312 L929.7 333.7 L933.5 311.2 L937.2 315 L944 309 L945.5 337.5 L947 363.7 L950.7 347.2 L954.5 357 L960.5 345 L968 328.7 L970.4 344.3 L971.3 358.9 L975.3 367 L979.1 375.2 L981.8 363 L985.1 356.5 L988.3 362.2 L992.4 341 L994.8 357.3 L996.5 365.4 L998.9 359.7 L1001.3 399.6 L1003 434.5 L1004.6 419 L1009.5 411 L1012.7 388.2 L1016.8 327.2 L1020 341.8 L1024.1 351.6 L1027.4 335.3 L1030.6 363.8 L1034.1 395.3 L1037.3 386 L1038.8 413.2 L1040.6 439.4 L1044.4 458.2 L1047.2 497.6 L1051 499.5 L1054.7 513.5 L1058.5 480.7 L1062.2 507.9 L1068.8 492.9" fill="none" stroke="#16c784" stroke-width="4.2" stroke-linejoin="round" stroke-linecap="round"/></g>
<g clip-path="url(#below)"><path d="M48.5 583.5 L51.5 542.5 L57.2 595.5 L60.2 596 L65.7 552.5 L69 564.5 L71.3 547.5 L75 545 L77 543 L78.6 466 L81.3 445 L86.5 367.5 L89.6 346 L92.75 389 L97 398 L102.3 305 L107.2 236 L114.2 281 L119.4 264 L124.6 244 L128.3 254 L130.8 329 L134.8 345 L137.6 279 L142.2 259 L145.6 265.5 L149 262 L153.1 277 L156.2 315 L159.3 300.5 L162.7 301 L166.1 291.6 L169.6 291.6 L173.4 316.3 L176.9 309.5 L183.7 255.1 L187.5 271.6 L190.6 257.9 L194.3 280.6 L197.8 275.8 L204.6 313.2 L208.2 269.5 L211.7 283.3 L218.6 271.6 L222 275.7 L225.4 262.6 L228.9 254.4 L232.6 229.6 L236 251.6 L239.9 253.7 L242.2 326 L246.5 409.8 L253.5 288.8 L257.2 305.6 L261 313 L267.5 344 L270.3 311.3 L274.7 302.8 L277.8 306.6 L285 292.5 L288.1 273.1 L292.5 281.3 L296.3 284.4 L302.5 281.9 L306.3 290 L309.4 327.5 L316.3 300 L320 296.9 L323.8 296.3 L326.9 318.1 L329.4 301.3 L333.8 301.3 L337.5 290 L341.3 282.5 L344.2 250.6 L347.6 261.6 L351.5 256.3 L356.3 267.5 L361.9 274.4 L365 288.8 L368.8 287.5 L371.9 293.8 L375.6 310 L381.3 282.5 L385.6 263.8 L389.4 240.6 L393.1 239.4 L397.5 250 L401.3 249.4 L406.5 236.5 L411.2 244.5 L414.2 247.5 L418 246 L421 259.5 L424 270 L427 261 L431.2 258.7 L433.7 282 L436.7 295.5 L440.5 310.5 L442.7 315 L445.7 310.5 L448.7 324.7 L451.7 313.5 L456.2 316.5 L460 301.5 L466.1 278.5 L469.8 329 L473 339.6 L476.3 316.9 L479.5 321 L483.6 319.3 L488.5 346.1 L490.9 346 L499.8 324.2 L503.9 293.3 L507.2 290 L511.2 296.5 L515.3 299 L518.5 271.3 L521 264 L525 249.4 L529.1 235.6 L531.5 252.6 L535.6 264.8 L538.9 270.9 L543 262.8 L547.1 272.5 L551.1 288.8 L556 305 L560.1 313.2 L563.3 327.8 L567.4 333.5 L570.7 325.4 L574.7 332.7 L578 335.9 L581.2 366 L585.3 357 L591 356.3 L598.3 361.1 L605.3 325.5 L609 317.4 L612.9 316.3 L616.3 327.6 L620.8 320.2 L623.6 311.2 L625.9 294.4 L629.8 285.4 L633.7 287.1 L637.1 285.4 L641.6 287.6 L645 284.2 L647.8 270.7 L650.6 303.4 L653.4 305 L657.9 309.6 L661.3 303.4 L664.7 297.2 L668.1 310.1 L672 309.6 L675.3 299.8 L678.5 288 L681.2 309.6 L682.5 323.4 L685.8 319.5 L689.1 331.9 L691.7 343.7 L693.3 362.8 L696.3 356.9 L700.2 338.5 L703.5 320.1 L706.8 297.2 L710.1 296.5 L714 301.7 L717.3 289.3 L721.2 288.6 L724.5 291.2 L727.8 279.4 L731.1 282.1 L735 276.2 L737.6 283.4 L741.6 300.4 L744.8 291 L748.3 287.7 L753.8 278 L759.3 271.2 L764.8 257.4 L769.6 244.3 L773 245.7 L776.5 234 L777.8 214.8 L779.2 198.3 L783.2 112 L785.7 130 L787.2 131.5 L790.2 127 L794 134.5 L797 148 L801.5 154 L804.2 148 L807.5 157 L811.2 157.7 L814.2 179.5 L818 212 L824.7 212.5 L828.5 197.5 L835.2 190.7 L838.7 211.5 L842.5 207.7 L846.2 225 L853 207 L857.5 217.5 L861.2 232.5 L863.5 261.7 L870.2 275.2 L877.7 270 L885.2 279 L891.3 266.2 L895.2 282 L898.7 327 L902 306.7 L908.7 309.7 L916.2 288.7 L920 303 L924.5 312 L929.7 333.7 L933.5 311.2 L937.2 315 L944 309 L945.5 337.5 L947 363.7 L950.7 347.2 L954.5 357 L960.5 345 L968 328.7 L970.4 344.3 L971.3 358.9 L975.3 367 L979.1 375.2 L981.8 363 L985.1 356.5 L988.3 362.2 L992.4 341 L994.8 357.3 L996.5 365.4 L998.9 359.7 L1001.3 399.6 L1003 434.5 L1004.6 419 L1009.5 411 L1012.7 388.2 L1016.8 327.2 L1020 341.8 L1024.1 351.6 L1027.4 335.3 L1030.6 363.8 L1034.1 395.3 L1037.3 386 L1038.8 413.2 L1040.6 439.4 L1044.4 458.2 L1047.2 497.6 L1051 499.5 L1054.7 513.5 L1058.5 480.7 L1062.2 507.9 L1068.8 492.9" fill="none" stroke="#ea3943" stroke-width="4.2" stroke-linejoin="round" stroke-linecap="round"/></g>
</g>
<g fill="#a1a7bb" style="will-change:transform" text-rendering="geometricPrecision">
<text transform="translate(1081.5 130) scale(1 1.02)">4,200.0</text>
<text transform="translate(1081.5 230) scale(1 1.02)">4,150.0</text>
<text transform="translate(1081.5 332) scale(1 1.02)">4,100.0</text>
<text transform="translate(1081.5 434) scale(1 1.02)">4,050.0</text>
<text transform="translate(1081.5 534) scale(1 1.02)">4,000.0</text>
<text transform="translate(1081.5 636) scale(1 1.02)">3,950.0</text>
<text transform="translate(131.7 776) scale(1 1.02)" text-anchor="middle">8:00 PM</text>
<text transform="translate(299.2 776) scale(1 1.02)" text-anchor="middle">15 Oct</text>
<text transform="translate(465.6 776) scale(1 1.02)" text-anchor="middle">4:00 AM</text>
<text transform="translate(633.4 776) scale(1 1.02)" text-anchor="middle">8:00 AM</text>
<text transform="translate(800.9 776) scale(1 1.02)" text-anchor="middle">12:00 PM</text>
<text transform="translate(967.8 776) scale(1 1.02)" text-anchor="middle">4:00 PM</text>
</g>
<g fill="#000" style="will-change:transform" text-rendering="geometricPrecision">
<text transform="translate(48 800) scale(1 1.02)">85</text>
<text transform="translate(984.3 799.2) scale(1.017 1.02)">Analyze</text>
</g>
</svg>
</body></html>
